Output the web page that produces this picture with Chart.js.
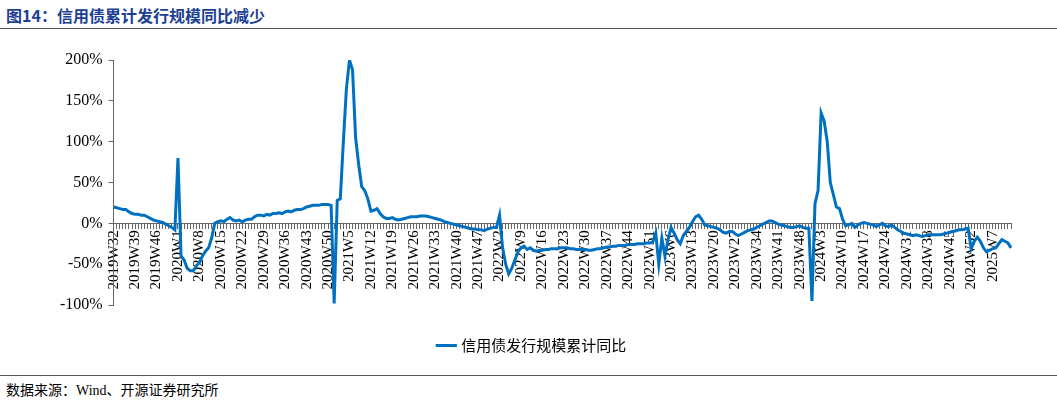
<!DOCTYPE html>
<html><head><meta charset="utf-8">
<script src="https://cdn.jsdelivr.net/npm/chart.js@4"></script>
<style>
body{margin:0;width:1057px;height:404px;background:#fff;position:relative;overflow:hidden;font-family:"Liberation Serif","Noto Sans CJK SC",serif}
#title{position:absolute;left:6px;top:3px;font-size:16px;font-weight:bold;color:#1c3f94;font-family:"Noto Sans CJK SC",sans-serif}
#tl{position:absolute;left:0;top:28px;width:1057px;height:1px;background:#555}
#bl{position:absolute;left:0;top:375px;width:1057px;height:1px;background:#555}
#src{position:absolute;left:6px;top:379px;font-size:14px;color:#000;font-family:"Liberation Serif","Noto Sans CJK SC",serif}
#wrap{position:absolute;left:0;top:40px;width:1057px;height:323px}
</style></head><body>
<div id="title">图14：信用债累计发行规模同比减少</div>
<div id="tl"></div>
<div id="wrap"><canvas id="c"></canvas></div>
<div id="bl"></div>
<div id="src">数据来源：Wind、开源证券研究所</div>
<script>
const seriesName = "信用债发行规模累计同比";
const startYear = 2019, startWeek = 32, weeksPerYear = 52;
const yTicks = [-100,-50,0,50,100,150,200];
const seg2019 = [20,19,18,17,17,14,12,11,11,10,10,8,6,4,3,2,1,-1,-3,-5,-8];
const seg2020a = [80,-40,-45,-55,-58,-58,-52,-48,-40,-34,-30,-18,0,2];
const seg2020b = [3,2,5,7,4,3,4,2,4,5,5,8,10,10,9,11,10,12,12,13,12,14,15,14,16,17,17,18,20,21,22,22,22,23,23,23];
const seg2021a = [22,-98,28,30,100,165,200,188,105,72,45,40,30,15,16,18,12,8,6,6,7,5];
const seg2021b = [4,5,6,7,8,8,8,9,9,9,8,7,6,5,4,2,1,0,-1,-2,-3,-4,-5,-6,-7,-7,-8,-8,-9,-7,-6,-5,-5];
const seg2022a = [10,-30,-50,-62,-55,-45,-35,-30,-28,-32,-30];
const seg2022b = [-33,-34,-33,-33,-32,-32,-31,-31,-31,-30,-30,-30,-31,-31,-32,-32,-32,-32,-33,-33,-32,-31,-31,-30,-29,-29,-28,-28,-27,-27,-27,-26,-26,-26,-25,-25,-25,-24,-24,-23];
const seg2023a = [-12,-50,-18,-40,-20,-5,-12,-20,-25,-15,-10,-5,2,8,10,5];
const seg2023b = [-2,-3,-4,-5,-6,-8,-11,-12,-10,-10,-13,-15,-13,-11,-9,-8,-7,-5,-3,-1,1,3,3,1,-1,-2,-3,-4,-5,-5,-4,-3,-5,-6,-6];
const seg2024a = [-95,24,40,135,125,100,50,35,20,18,5,-3,-2];
const seg2024b = [0,-5,-2,0,1,0,-1,-2,-4,-2,0,-3,-4,-2,-5,-8,-10];
const seg2024c = [-12,-13,-14,-15,-14,-15,-16,-15,-14,-14,-14,-14,-14,-13,-12,-11,-10,-9,-8,-8,-7,-6];
const seg2025 = [-31,-22,-17,-22,-30,-35,-33,-31,-30,-25,-20,-22,-24,-30];
const values = [].concat(seg2019,seg2020a,seg2020b,seg2021a,seg2021b,seg2022a,seg2022b,seg2023a,seg2023b,seg2024a,seg2024b,seg2024c,seg2025);
const labels = values.map((v,i)=>{let w=startWeek+i,y=startYear;while(w>weeksPerYear){w-=weeksPerYear;y++;}return y+"W"+w;});
const F = "'Liberation Serif','Times New Roman',serif";
new Chart(document.getElementById('c'),{
 type:'line',
 data:{labels:labels,datasets:[{label:seriesName,data:values,borderColor:'#0070C0',backgroundColor:'#0070C0',borderWidth:3,pointRadius:0,tension:0}]},
 options:{responsive:true,maintainAspectRatio:false,animation:false,
  layout:{padding:{left:54,right:46,top:20,bottom:0}},
  plugins:{legend:{position:'bottom',labels:{usePointStyle:true,pointStyle:'line',boxWidth:40,font:{size:15,family:"'Noto Sans CJK SC',sans-serif"},color:'#000',padding:33}},tooltip:{enabled:false}},
  scales:{
   x:{position:{y:0},grid:{drawOnChartArea:false,drawTicks:true,tickLength:5,color:'#666'},border:{color:'#666'},
      ticks:{autoSkip:false,maxRotation:90,minRotation:90,font:{size:15,family:F},color:'#000',padding:2,
       callback:function(v,i){return i%7===0?labels[i]:'';}}},
   y:{min:-100,max:200,grid:{drawOnChartArea:false,tickLength:5,color:'#666'},border:{color:'#666'},
      afterBuildTicks:a=>{a.ticks=yTicks.map(v=>({value:v}));},
      ticks:{font:{size:16,family:F},color:'#000',padding:6,callback:v=>v+'%'}}
  }}
});
</script></body></html>
